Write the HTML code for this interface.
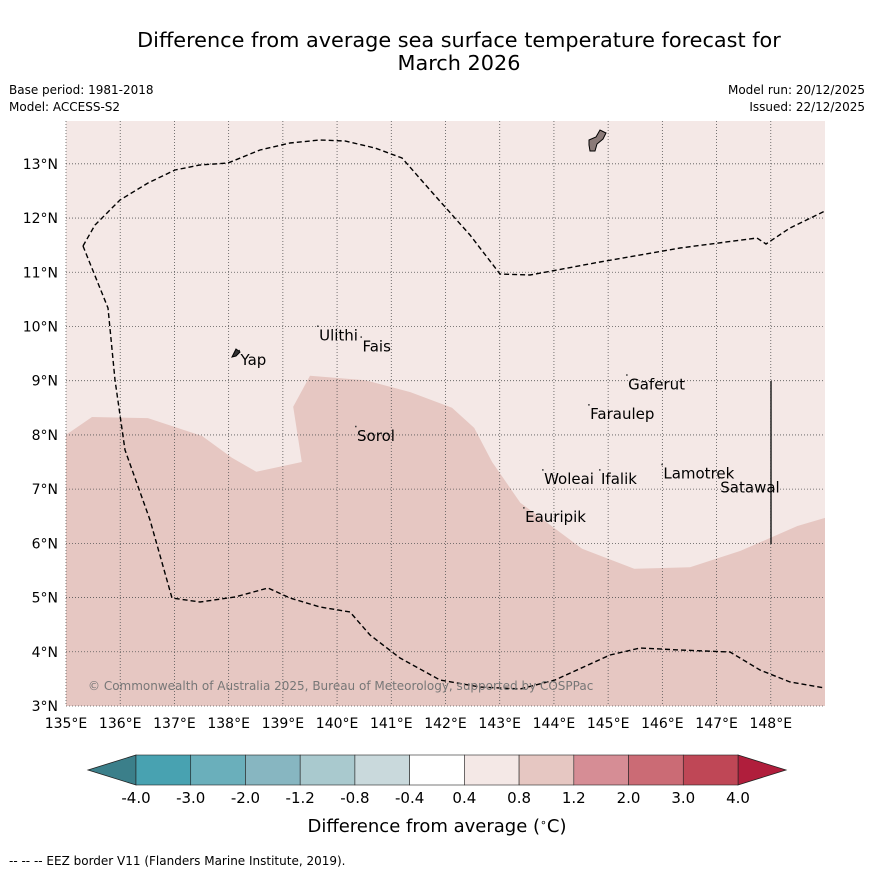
<!DOCTYPE html>
<html><head><meta charset="utf-8"><style>
body{margin:0;background:#fff;font-family:"DejaVu Sans","Liberation Sans",sans-serif}
svg{display:block}
</style></head><body>
<svg id="chart" width="873" height="873" viewBox="0 0 873 873" xmlns="http://www.w3.org/2000/svg" font-family="DejaVu Sans, Liberation Sans, sans-serif">
<text x="459" y="47" text-anchor="middle" font-size="20.8">Difference from average sea surface temperature forecast for</text>
<text x="459" y="70" text-anchor="middle" font-size="20.8">March 2026</text>
<text x="9" y="94" font-size="12">Base period: 1981-2018</text>
<text x="9" y="111" font-size="12">Model: ACCESS-S2</text>
<text x="865" y="94" font-size="12" text-anchor="end">Model run: 20/12/2025</text>
<text x="865" y="111" font-size="12" text-anchor="end">Issued: 22/12/2025</text>
<g id="map"></g>
<g id="cbar"></g>
<text x="437" y="832" text-anchor="middle" font-size="18">Difference from average (<tspan dy="-6" font-size="11">∘</tspan><tspan dy="6">C)</tspan></text>
<text x="9" y="865" font-size="12">--  --  -- EEZ border V11 (Flanders Marine Institute, 2019).</text>
</svg>
<script>
const NS="http://www.w3.org/2000/svg";
const lonTicks=[135,136,137,138,139,140,141,142,143,144,145,146,147,148];
const latTicks=[3,4,5,6,7,8,9,10,11,12,13];
const warmLon=[135,135.48,136.51,137.51,138.06,138.51,139.35,139.19,139.5,140.52,141.35,142.12,142.53,142.86,143.38,144.52,145.48,146.51,147.44,148.49,149];
const warmLat=[8.0,8.33,8.31,7.98,7.58,7.32,7.5,8.52,9.09,9.01,8.79,8.5,8.13,7.5,6.75,5.9,5.53,5.56,5.86,6.32,6.47];
const islandNames=["Ulithi","Fais","Yap","Gaferut","Faraulep","Sorol","Woleai","Ifalik","Lamotrek","Satawal","Eauripik"];
const islandLon=[139.65,140.45,138.2,145.35,144.65,140.35,143.8,144.85,146.0,147.05,143.45];
const islandLat=[10.0,9.8,9.55,9.1,8.55,8.15,7.35,7.35,7.45,7.2,6.65];
const cbBounds=["-4.0","-3.0","-2.0","-1.2","-0.8","-0.4","0.4","0.8","1.2","2.0","3.0","4.0"];
const cbColors=["#48a2b1","#6aafbb","#87b6c1","#a9c9ce","#c9d9dc","#ffffff","#f4e8e6","#e6c7c2","#d68d95","#cb6b75","#bf4756"];
const lon0=135,lon1=149,lat0=3,lat1=13.79,X0=66,X1=825,Y0=706,Y1=121;
const px=l=>X0+(l-lon0)/(lon1-lon0)*(X1-X0);
const py=l=>Y0-(l-lat0)/(lat1-lat0)*(Y0-Y1);
function mk(t,a,p){const e=document.createElementNS(NS,t);for(const k in a)e.setAttribute(k,a[k]);(p||map).appendChild(e);return e;}
const map=document.getElementById('map');
const bg=mk('rect',{x:X0,y:Y1,width:X1-X0,height:Y0-Y1,fill:'#f4e8e6'});


let d=warmLon.map((l,i)=>(i?'L':'M')+px(l).toFixed(1)+','+py(warmLat[i]).toFixed(1)).join('')+`L${X1},${Y0}L${X0},${Y0}Z`;
const warm=mk('path',{d:d,fill:'#e6c7c2'});


lonTicks.forEach(l=>{const x=px(l);
 const g=mk('line',{x1:x,x2:x,y1:Y1,y2:Y0,stroke:'#555','stroke-width':0.8,'stroke-dasharray':'1,2'});
 
 
 const t=mk('text',{x:x,y:Y0+22,'text-anchor':'middle','font-size':14});t.textContent=l+'°E';
 
 });
latTicks.forEach(l=>{const y=py(l);
 const g=mk('line',{x1:X0,x2:X1,y1:y,y2:y,stroke:'#555','stroke-width':0.8,'stroke-dasharray':'1,2'});
 
 
 const t=mk('text',{x:X0-8,y:y+5,'text-anchor':'end','font-size':14});t.textContent=l+'°N';
 
 });
const e1=mk('path',{d:'M83,246L95,225L120,200L148,183L175,170L200,165L228,163L260,150L290,143L320,140L345,141L375,148L402,158L430,190L470,235L500,274L530,275L600,262L680,248L757,238L766,244L790,228L825,211',fill:'none',stroke:'#000','stroke-width':1.4,'stroke-dasharray':'5,3'});


const e2=mk('path',{d:'M83,246L108,308L115,380L125,450L150,520L172,598L200,602L235,597L268,588L290,598L320,607L350,612L370,635L400,658L440,680L480,687L520,689L555,680L610,655L640,648L680,650L730,652L760,670L790,682L825,688',fill:'none',stroke:'#000','stroke-width':1.4,'stroke-dasharray':'5,3'});


const vl=mk('line',{x1:771,x2:771,y1:381,y2:544,stroke:'#222','stroke-width':1.5});


const guam=mk('path',{d:'M589,140L596,137L600,130L606,133L603,139L597,144L595,151L590,151L589,145Z',fill:'#8a7a78',stroke:'#000','stroke-width':1});


const yap=mk('path',{d:'M232,357L236,349L240,352L236,356Z',fill:'#333',stroke:'#000','stroke-width':1});


islandNames.forEach((n,i)=>{const x=px(islandLon[i]),y=py(islandLat[i]);
 const dot=mk('rect',{x:x-1,y:y-1,width:1.5,height:1.5,fill:'#333'});
 
 
 const t=mk('text',{x:x+1,y:y+14,'font-size':15});t.textContent=n;
 
 });
const cp=mk('text',{x:88,y:690,'font-size':12,fill:'#777'});cp.textContent='© Commonwealth of Australia 2025, Bureau of Meteorology, supported by COSPPac';


const cb=document.getElementById('cbar');
const cx0=136,cx1=738,cy0=755,cy1=785,w=(cx1-cx0)/cbColors.length;
const la=mk('path',{d:`M${cx0},${cy0}L88,770L${cx0},${cy1}Z`,fill:'#3b7f8a',stroke:'#222','stroke-width':0.8},cb);


const ra=mk('path',{d:`M${cx1},${cy0}L786,770L${cx1},${cy1}Z`,fill:'#b01e3c',stroke:'#222','stroke-width':0.8},cb);


cbColors.forEach((c,i)=>{const r=mk('rect',{x:cx0+i*w,y:cy0,width:w,height:cy1-cy0,fill:c,stroke:'#222','stroke-width':0.6},cb);
 
 });
cbBounds.forEach((b,i)=>{const t=mk('text',{x:cx0+i*w,y:803,'text-anchor':'middle','font-size':15},cb);t.textContent=b;
 
 });
</script>
</body></html>
